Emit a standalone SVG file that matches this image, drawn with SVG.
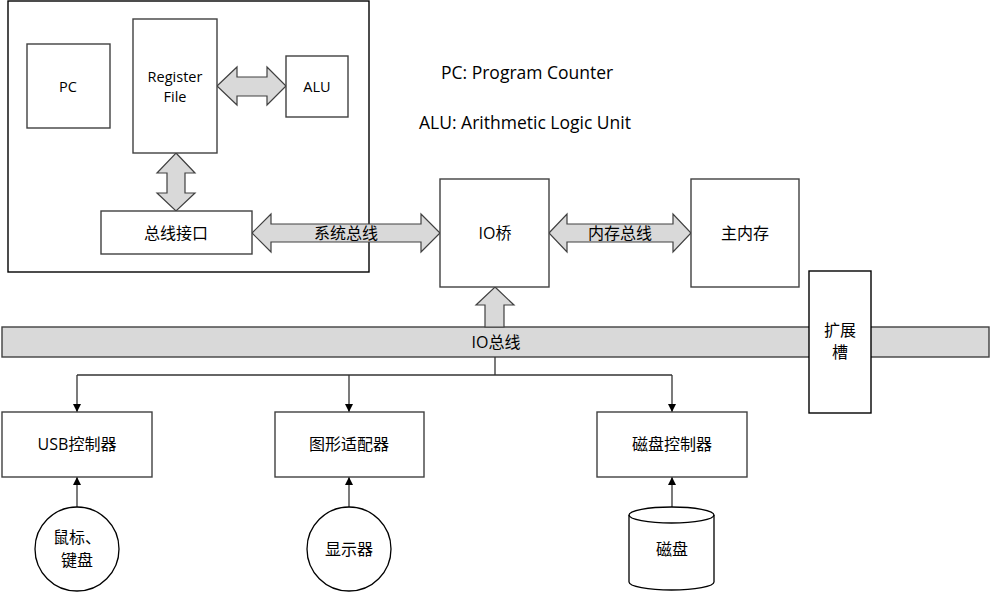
<svg xmlns="http://www.w3.org/2000/svg" width="991" height="592" viewBox="0 0 991 592">
<defs>
<style>
.box{fill:#fff;stroke:#404040;stroke-width:1.4}
.barrow{fill:#d9d9d9;stroke:#404040;stroke-width:1.2}
.ln{fill:none;stroke:#333;stroke-width:1.3}
text{font-family:"Open Sans","Noto Sans CJK SC",sans-serif;font-size:14.5px;fill:#000;text-anchor:middle;dominant-baseline:central}
.zh{font-size:16px}
.leg{font-size:17.5px;text-anchor:start}
</style>
<marker id="ah" viewBox="0 0 10 10" refX="10" refY="5" markerWidth="8" markerHeight="8" markerUnits="userSpaceOnUse" orient="auto">
<path d="M0,0 L10,5 L0,10 z" fill="#000"/>
</marker>
</defs>
<rect width="991" height="592" fill="#fff"/>

<g id="cpu">
<rect x="8" y="1" width="361" height="271" fill="#fff" stroke="#000" stroke-width="1.4"/>
</g>

<g id="legend">
<text class="leg" x="441" y="72">PC: Program Counter</text>
<text class="leg" x="419" y="122">ALU: Arithmetic Logic Unit</text>
</g>

<g id="iobus">
<rect x="2" y="327" width="987" height="30" fill="#d9d9d9" stroke="#404040" stroke-width="1.4"/>
<text class="zh" x="496" y="342">IO总线</text>
</g>

<g id="connectors">
<polygon class="barrow" points="217,86 237,67 237,77 267,77 267,67 286,86 267,105 267,96 237,96 237,105"/>
<polygon class="barrow" points="176,153 195,173 185,173 185,193 195,193 176,211 157,193 167,193 167,173 157,173"/>
<polygon class="barrow" points="252,233 271,214 271,224 421,224 421,214 440,233 421,252 421,242 271,242 271,252"/>
<text class="zh" x="346" y="233">系统总线</text>
<polygon class="barrow" points="549,233 567,214 567,224 673,224 673,214 691,233 673,252 673,242 567,242 567,252"/>
<text class="zh" x="620" y="233">内存总线</text>
<polygon class="barrow" points="495,287 514,305 504,305 504,327 485,327 485,305 476,305"/>
<polyline class="ln" points="495,357 495,375"/>
<polyline class="ln" points="77,375 672,375"/>
<line class="ln" x1="77" y1="375" x2="77" y2="412" marker-end="url(#ah)"/>
<line class="ln" x1="349" y1="375" x2="349" y2="412" marker-end="url(#ah)"/>
<line class="ln" x1="672" y1="375" x2="672" y2="412" marker-end="url(#ah)"/>
<line class="ln" x1="77" y1="507" x2="77" y2="477" marker-end="url(#ah)"/>
<line class="ln" x1="349" y1="507" x2="349" y2="477" marker-end="url(#ah)"/>
<line class="ln" x1="672" y1="507" x2="672" y2="477" marker-end="url(#ah)"/>
</g>

<g id="pc"><rect class="box" x="27" y="44" width="83" height="84"/><text x="68" y="86">PC</text></g>
<g id="regfile"><rect class="box" x="133" y="19" width="84" height="134"/><text x="175" y="76">Register</text><text x="175" y="96">File</text></g>
<g id="alu"><rect class="box" x="286" y="56" width="62" height="61"/><text x="317" y="86">ALU</text></g>
<g id="businterface"><rect class="box" x="101" y="211" width="151" height="43"/><text class="zh" x="176" y="233">总线接口</text></g>
<g id="iobridge"><rect class="box" x="440" y="179" width="109" height="108"/><text class="zh" x="495" y="233">IO桥</text></g>
<g id="mainmem"><rect class="box" x="691" y="179" width="108" height="108"/><text class="zh" x="745" y="233">主内存</text></g>
<g id="expslot"><rect x="809" y="271" width="62" height="142" fill="#fff" stroke="#000" stroke-width="1.4"/><text class="zh" x="840" y="330">扩展</text><text class="zh" x="840" y="352">槽</text></g>
<g id="usb"><rect class="box" x="2" y="412" width="150" height="65"/><text class="zh" x="77" y="444">USB控制器</text></g>
<g id="gfx"><rect class="box" x="275" y="412" width="149" height="65"/><text class="zh" x="349" y="444">图形适配器</text></g>
<g id="diskctl"><rect class="box" x="597" y="412" width="150" height="65"/><text class="zh" x="672" y="444">磁盘控制器</text></g>
<g id="mouse"><circle cx="77" cy="549" r="42" fill="#fff" stroke="#000" stroke-width="1.3"/><text class="zh" x="77" y="537">鼠标、</text><text class="zh" x="77" y="560">键盘</text></g>
<g id="display"><circle cx="349" cy="549" r="42" fill="#fff" stroke="#000" stroke-width="1.3"/><text class="zh" x="349" y="549">显示器</text></g>
<g id="disk">
<path d="M629,515 L629,582 A42.5,8 0 0 0 714,582 L714,515 A42.5,8 0 0 0 629,515 Z" fill="#fff" stroke="#000" stroke-width="1.3"/>
<path d="M629,515 A42.5,8 0 0 0 714,515" fill="none" stroke="#000" stroke-width="1.3"/>
<text class="zh" x="672" y="549">磁盘</text>
</g>
</svg>
